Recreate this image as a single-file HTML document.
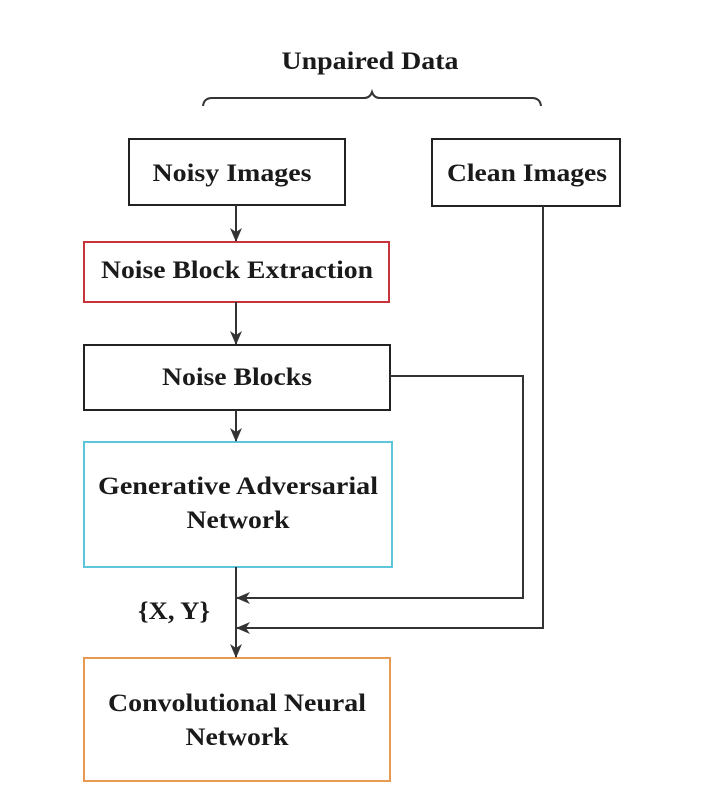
<!DOCTYPE html>
<html><head><meta charset="utf-8"><style>
html,body{margin:0;padding:0;background:#fff;}
svg{display:block;}
text{font-family:"Liberation Serif",serif;font-weight:bold;font-size:25px;fill:#1a1a1a;text-anchor:middle;}
</style></head><body>
<svg width="726" height="810" viewBox="0 0 726 810">
<defs><marker id="a" markerWidth="14" markerHeight="14" refX="13" refY="7" orient="auto" markerUnits="userSpaceOnUse"><path d="M0,1 L14,7 L0,13 L4,7 Z" fill="#333"/></marker></defs>
<text x="370" y="69" textLength="177" lengthAdjust="spacingAndGlyphs">Unpaired Data</text>
<path d="M203,106 Q204,98 212,98 L364,98 Q370,98 372,92 Q374,98 380,98 L532,98 Q540,98 541,106" fill="none" stroke="#333" stroke-width="2"/>
<rect x="129" y="139" width="216" height="66" fill="none" stroke="#222" stroke-width="2"/>
<text x="232" y="181" textLength="159" lengthAdjust="spacingAndGlyphs">Noisy Images</text>
<rect x="432" y="139" width="188" height="67" fill="none" stroke="#222" stroke-width="2"/>
<text x="527" y="181" textLength="160" lengthAdjust="spacingAndGlyphs">Clean Images</text>
<rect x="84" y="242" width="305" height="60" fill="none" stroke="#c8343c" stroke-width="2"/>
<text x="237" y="278" textLength="272" lengthAdjust="spacingAndGlyphs">Noise Block Extraction</text>
<rect x="84" y="345" width="306" height="65" fill="none" stroke="#222" stroke-width="2"/>
<text x="237" y="385" textLength="150" lengthAdjust="spacingAndGlyphs">Noise Blocks</text>
<rect x="84" y="442" width="308" height="125" fill="none" stroke="#5ec6da" stroke-width="2"/>
<text x="238" y="494" textLength="280" lengthAdjust="spacingAndGlyphs">Generative Adversarial</text>
<text x="238" y="528" textLength="103" lengthAdjust="spacingAndGlyphs">Network</text>
<rect x="84" y="658" width="306" height="123" fill="none" stroke="#e89a52" stroke-width="2"/>
<text x="237" y="711" textLength="258" lengthAdjust="spacingAndGlyphs">Convolutional Neural</text>
<text x="237" y="745" textLength="103" lengthAdjust="spacingAndGlyphs">Network</text>
<text x="174" y="619" textLength="72" lengthAdjust="spacingAndGlyphs">{X, Y}</text>
<g stroke="#333" stroke-width="2" fill="none">
<line x1="236" y1="205" x2="236" y2="241" marker-end="url(#a)"/>
<line x1="236" y1="302" x2="236" y2="344" marker-end="url(#a)"/>
<line x1="236" y1="410" x2="236" y2="441" marker-end="url(#a)"/>
<line x1="236" y1="567" x2="236" y2="657" marker-end="url(#a)"/>
<polyline points="390,376 523,376 523,598 237,598" marker-end="url(#a)"/>
<polyline points="543,206 543,628 237,628" marker-end="url(#a)"/>
</g>
</svg>
</body></html>
